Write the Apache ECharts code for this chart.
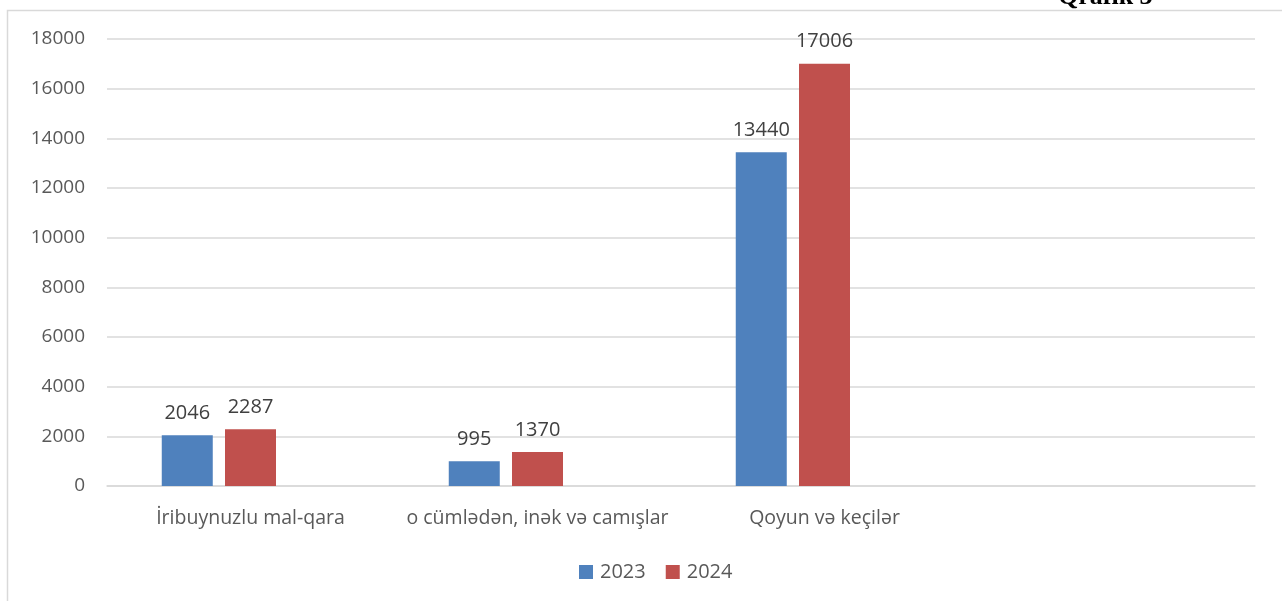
<!DOCTYPE html>
<html><head><meta charset="utf-8">
<script src="https://cdn.jsdelivr.net/npm/echarts@6/dist/echarts.min.js"></script>
<style>html,body{margin:0;padding:0;background:#fff}#c{width:1282px;height:601px}</style>
</head><body><div id="c"></div>
<script>
var categories = ['İribuynuzlu mal-qara', 'o cümlədən, inək və camışlar', 'Qoyun və keçilər', ''];
var values2023 = [2046, 995, 13440, null];
var values2024 = [2287, 1370, 17006, null];
var yTicks = [0, 2000, 4000, 6000, 8000, 10000, 12000, 14000, 16000, 18000];

var chart = echarts.init(document.getElementById('c'));
var font = '"Open Sans", "Noto Sans", sans-serif';
var lbl = {show: true, position: 'top', color: '#404040', fontSize: 20, fontFamily: font, distance: 12};
chart.setOption({
  animation: false,
  graphic: [
    {type: 'rect', shape: {x: 7.5, y: 10.5, width: 1290, height: 600}, style: {fill: 'none', stroke: '#d9d9d9', lineWidth: 1.5}, silent: true},
    {type: 'text', left: 1058, top: -16, style: {text: 'Qrafik 3', font: 'bold 26px "Liberation Serif", serif', fill: '#000'}}
  ],
  grid: {left: 107, right: 27, top: 39, bottom: 115},
  legend: {
    data: ['2023', '2024'], bottom: 14, left: 574, itemWidth: 14, itemHeight: 14, itemGap: 20,
    icon: 'rect', textStyle: {color: '#595959', fontSize: 20, fontFamily: font, padding: [0, 0, 0, 2]}
  },
  xAxis: {
    type: 'category', data: categories,
    axisLine: {lineStyle: {color: '#d9d9d9', width: 1.5}}, axisTick: {show: false},
    axisLabel: {color: '#595959', fontSize: 19.5, fontFamily: font, margin: 22, interval: 0}
  },
  yAxis: {
    type: 'value', min: 0, max: 18000, interval: 2000,
    axisLine: {show: false}, axisTick: {show: false},
    splitLine: {lineStyle: {color: '#d9d9d9', width: 1.5}},
    axisLabel: {color: '#595959', fontSize: 19, fontFamily: font, margin: 22,
      formatter: function (v) { return yTicks.indexOf(v) >= 0 ? String(v) : ''; }}
  },
  series: [
    {name: '2023', type: 'bar', data: values2023, barWidth: 51, barGap: '24%', itemStyle: {color: '#4f81bd'}, label: lbl},
    {name: '2024', type: 'bar', data: values2024, barWidth: 51, barGap: '24%', itemStyle: {color: '#c0504d'}, label: lbl},
    {name: 'x', type: 'bar', data: [null, null, null, null], barWidth: 51, barGap: '24%'}
  ]
});
</script></body></html>
